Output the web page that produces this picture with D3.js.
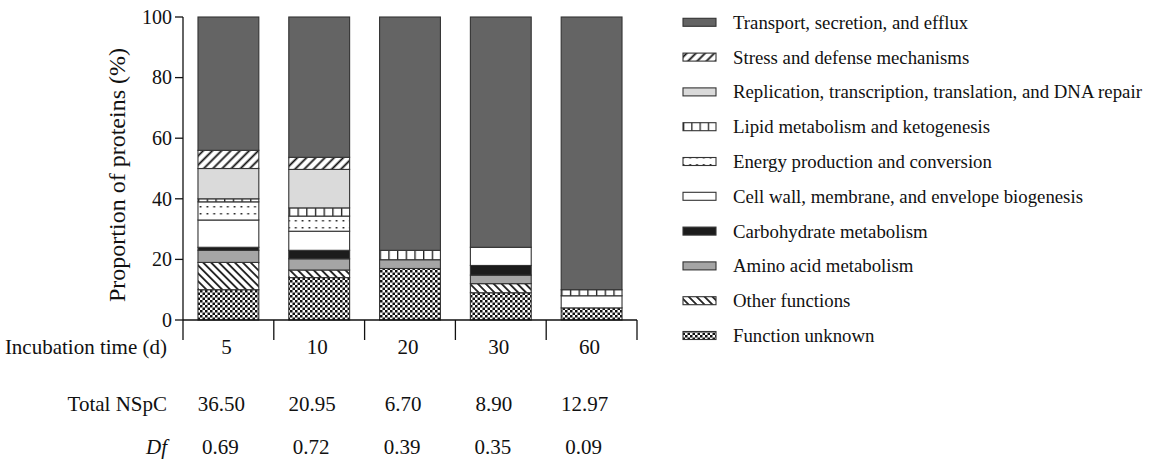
<!DOCTYPE html>
<html>
<head>
<meta charset="utf-8">
<script src="https://cdn.jsdelivr.net/npm/d3@7"></script>
<style>
  html, body { margin: 0; padding: 0; background: #fff; }
  svg { display: block; }
</style>
</head>
<body>
<svg id="chart" width="1149" height="460" font-family="'Liberation Serif', Tinos, 'Times New Roman', serif"></svg>
<script>
// ---------- DATA ----------
const categories = ["5", "10", "20", "30", "60"];
const seriesNames = [
  "Function unknown",
  "Other functions",
  "Amino acid metabolism",
  "Carbohydrate metabolism",
  "Cell wall, membrane, and envelope biogenesis",
  "Energy production and conversion",
  "Lipid metabolism and ketogenesis",
  "Replication, transcription, translation, and DNA repair",
  "Stress and defense mechanisms",
  "Transport, secretion, and efflux"
];
const functionUnknown = [10.0, 14.0, 17.0, 9.0, 4.0];
const otherFunctions  = [9.0, 2.5, 0, 3.0, 0];
const aminoAcid       = [4.0, 3.7, 2.9, 2.8, 0];
const carbohydrate    = [1.0, 2.8, 0, 3.2, 0];
const cellWall        = [9.0, 6.3, 0, 6.0, 4.0];
const energy          = [6.0, 5.0, 0, 0, 0];
const lipid           = [1.0, 2.7, 3.1, 0, 2.0];
const replication     = [10.0, 12.7, 0, 0, 0];
const stress          = [6.0, 4.0, 0, 0, 0];
const transport       = [44.0, 46.3, 77.0, 76.0, 90.0];
const seriesValues = [functionUnknown, otherFunctions, aminoAcid, carbohydrate, cellWall,
                      energy, lipid, replication, stress, transport];
const yTicks = [0, 20, 40, 60, 80, 100];
const totalNSpC = ["36.50", "20.95", "6.70", "8.90", "12.97"];
const dfValues = ["0.69", "0.72", "0.39", "0.35", "0.09"];
const yTitle = "Proportion of proteins (%)";
const rowLabels = ["Incubation time (d)", "Total NSpC", "Df"];

// ---------- STYLE ----------
const fills = [
  "url(#pUnknown)", "url(#pOther)", "#a5a5a5", "#1c1c1c", "#ffffff",
  "url(#pEnergy)", "url(#pLipid)", "#dadada", "url(#pStress)", "#646464"
];
const legendFills = [
  "url(#pUnknown)", "url(#pOther)", "#a5a5a5", "#1c1c1c", "#ffffff",
  "url(#pEnergy)", "url(#pLipidL)", "#dadada", "url(#pStress)", "#646464"
];

const svg = d3.select("#chart");
const defs = svg.append("defs");

function hatch(id, angle, spacing, width) {
  const p = defs.append("pattern").attr("id", id)
    .attr("patternUnits", "userSpaceOnUse")
    .attr("width", spacing).attr("height", spacing)
    .attr("patternTransform", `rotate(${angle})`);
  p.append("rect").attr("width", spacing).attr("height", spacing).attr("fill", "#fff");
  p.append("line").attr("x1", spacing / 2).attr("x2", spacing / 2)
    .attr("y1", -1).attr("y2", spacing + 1)
    .attr("stroke", "#111").attr("stroke-width", width);
}
hatch("pStress", 45, 6.5, 1.8);
hatch("pOther", -45, 5.6, 1.7);

(function () {
  const s = 2.5;
  const p = defs.append("pattern").attr("id", "pUnknown")
    .attr("patternUnits", "userSpaceOnUse").attr("width", 2 * s).attr("height", 2 * s);
  p.append("rect").attr("width", 2 * s).attr("height", 2 * s).attr("fill", "#fff");
  p.append("rect").attr("width", s).attr("height", s).attr("fill", "#111");
  p.append("rect").attr("x", s).attr("y", s).attr("width", s).attr("height", s).attr("fill", "#111");
})();

(function () {
  const p = defs.append("pattern").attr("id", "pEnergy")
    .attr("patternUnits", "userSpaceOnUse").attr("width", 6.8).attr("height", 7);
  p.append("rect").attr("width", 6.8).attr("height", 7).attr("fill", "#fff");
  p.append("rect").attr("x", 2.5).attr("y", 3).attr("width", 1.8).attr("height", 1.5).attr("fill", "#222");
})();

function lipidPattern(id, cells) {
  const p = defs.append("pattern").attr("id", id)
    .attr("patternUnits", "objectBoundingBox")
    .attr("patternContentUnits", "objectBoundingBox")
    .attr("width", 1 / cells).attr("height", 1);
  p.append("rect").attr("width", 1 / cells).attr("height", 1).attr("fill", "#fff");
  p.append("rect").attr("x", 0).attr("width", 0.022 * 7 / cells).attr("height", 1).attr("fill", "#222");
}
lipidPattern("pLipid", 7);
lipidPattern("pLipidL", 4);

// ---------- SCALES ----------
const x = d3.scaleBand().domain(categories).range([183, 637])
  .paddingInner(0.33).paddingOuter(0.165);
const y = d3.scaleLinear().domain([0, 100]).range([320, 17]);

// ---------- STACK ----------
const table = categories.map((c, i) => {
  const o = { cat: c };
  seriesNames.forEach((s, k) => { o[s] = seriesValues[k][i]; });
  return o;
});
const stacked = d3.stack().keys(seriesNames)(table);

const g = svg.append("g");
stacked.forEach((layer, k) => {
  g.selectAll(null).data(layer.filter(d => d[1] - d[0] > 0)).enter().append("rect")
    .attr("x", d => x(d.data.cat))
    .attr("width", x.bandwidth())
    .attr("y", d => y(d[1]))
    .attr("height", d => y(d[0]) - y(d[1]))
    .attr("fill", fills[k])
    .attr("stroke", "#333")
    .attr("stroke-width", 1.1);
});

// ---------- AXES ----------
const axisColor = "#111";
const ya = svg.append("g").attr("transform", `translate(${x.range()[0]},0)`);
ya.selectAll(null).data(yTicks).enter().append("line")
  .attr("x1", -8).attr("x2", 0).attr("y1", d => y(d)).attr("y2", d => y(d))
  .attr("stroke", axisColor).attr("stroke-width", 1.3);
ya.selectAll(null).data(yTicks).enter().append("text")
  .attr("x", -11).attr("y", d => y(d)).attr("dy", "0.34em")
  .attr("text-anchor", "end")
  .attr("font-size", 20).attr("fill", "#111")
  .text(d => d);
svg.append("line")
  .attr("x1", x.range()[0]).attr("x2", x.range()[0])
  .attr("y1", y(100)).attr("y2", y(0) + 20)
  .attr("stroke", axisColor).attr("stroke-width", 1.3);
svg.append("line")
  .attr("x1", x.range()[0]).attr("x2", x.range()[1])
  .attr("y1", y(0)).attr("y2", y(0))
  .attr("stroke", axisColor).attr("stroke-width", 1.3);
const bounds = d3.range(1, categories.length + 1).map(i => x.range()[0] + i * x.step());
svg.selectAll(null).data(bounds).enter().append("line")
  .attr("x1", d => d).attr("x2", d => d)
  .attr("y1", y(0)).attr("y2", y(0) + 20)
  .attr("stroke", axisColor).attr("stroke-width", 1.3);

svg.append("text")
  .attr("transform", `translate(125,175) rotate(-90)`)
  .attr("text-anchor", "middle")
  .attr("font-size", 24).attr("fill", "#111")
  .text(yTitle);

// ---------- TABLE BELOW ----------
const rowY = [354, 411, 454];
const labelRight = 167;
svg.append("text").attr("x", labelRight).attr("y", rowY[0]).attr("text-anchor", "end")
  .attr("font-size", 21).attr("fill", "#111").text(rowLabels[0]);
svg.append("text").attr("x", labelRight).attr("y", rowY[1]).attr("text-anchor", "end")
  .attr("font-size", 21).attr("fill", "#111").text(rowLabels[1]);
svg.append("text").attr("x", labelRight).attr("y", rowY[2]).attr("text-anchor", "end")
  .attr("font-style", "italic").attr("font-size", 21).attr("fill", "#111").text(rowLabels[2]);

const cx = c => x(c) + x.bandwidth() / 2;
svg.selectAll(null).data(categories).enter().append("text")
  .attr("x", d => cx(d) - 2).attr("y", rowY[0]).attr("text-anchor", "middle")
  .attr("font-size", 21).attr("fill", "#111").text(d => d);
svg.selectAll(null).data(totalNSpC).enter().append("text")
  .attr("x", (d, i) => cx(categories[i]) - 7).attr("y", rowY[1]).attr("text-anchor", "middle")
  .attr("font-size", 21).attr("fill", "#111").text(d => d);
svg.selectAll(null).data(dfValues).enter().append("text")
  .attr("x", (d, i) => cx(categories[i]) - 8).attr("y", rowY[2]).attr("text-anchor", "middle")
  .attr("font-size", 21).attr("fill", "#111").text(d => d);

// ---------- LEGEND ----------
const legendOrder = d3.range(seriesNames.length - 1, -1, -1);
const lg = svg.append("g");
legendOrder.forEach((k, row) => {
  const cy = 22.3 + row * 34.8;
  lg.append("rect").attr("x", 683).attr("y", cy - 4).attr("width", 33).attr("height", 8)
    .attr("fill", legendFills[k]).attr("stroke", "#333").attr("stroke-width", 1.1);
  lg.append("text").attr("x", 733).attr("y", cy).attr("dy", "0.35em")
    .attr("font-size", 18.8).attr("fill", "#111").text(seriesNames[k]);
});
</script>
</body>
</html>
